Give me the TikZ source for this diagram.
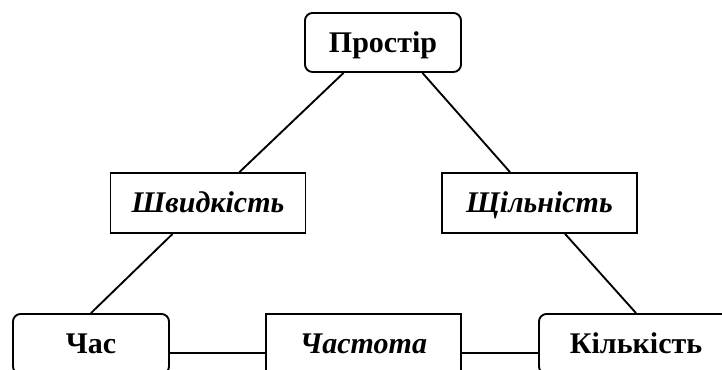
\documentclass[tikz,border=0pt]{standalone}
\usepackage{fontspec}
\setmainfont{Liberation Serif}
\usetikzlibrary{calc}
\begin{document}
\begin{tikzpicture}[x=0.4pt,y=-0.4pt,line width=0.75pt,
	kategoriia/.style={draw,rounded corners=3pt,inner sep=0pt,minimum height=24pt,text height=9.5pt,text depth=1.5pt,font=\fontsize{12}{14}\selectfont\bfseries},
	pokaznyk/.style={draw,inner sep=0pt,minimum width=78pt,minimum height=24pt,text height=9.5pt,text depth=1.5pt,font=\fontsize{12}{14}\selectfont\bfseries\itshape}]
	\def\dy{-3.6pt} % zsuv horyzontalnykh linii
	\useasboundingbox (0,0) rectangle (722,370);
	\clip (0,0) rectangle (722,370);
	% vershyny trykutnyka
	\node[kategoriia,minimum width=62.4pt,minimum height=23.6pt] (prostir) at (383,42.5) {Простір};
	\node[kategoriia,minimum width=62.4pt] (chas) at (91,344) {Час};
	\node[kategoriia,minimum width=77.6pt] (kilkist) at (636,344) {Кількість};
	% storony
	\node[pokaznyk] (shvydkist) at (208,203) {Швидкість};
	\node[pokaznyk] (shchilnist) at (539.5,203) {Щільність};
	\node[pokaznyk] (chastota) at (363.5,344) {Частота};
	\draw ($(prostir.south west)!0.25!(prostir.south east)$) -- ($(shvydkist.north west)!0.66!(shvydkist.north east)$);
	\draw ($(prostir.south west)!0.75!(prostir.south east)$) -- ($(shchilnist.north west)!0.35!(shchilnist.north east)$);
	\draw ($(shvydkist.south west)!0.32!(shvydkist.south east)$) -- (chas.north);
	\draw ($(shchilnist.south west)!0.63!(shchilnist.south east)$) -- (kilkist.north);
	\draw ([yshift=\dy]chas.east) -- ([yshift=\dy]chastota.west);
	\draw ([yshift=\dy]chastota.east) -- ([yshift=\dy]kilkist.west);
\end{tikzpicture}
\end{document}
